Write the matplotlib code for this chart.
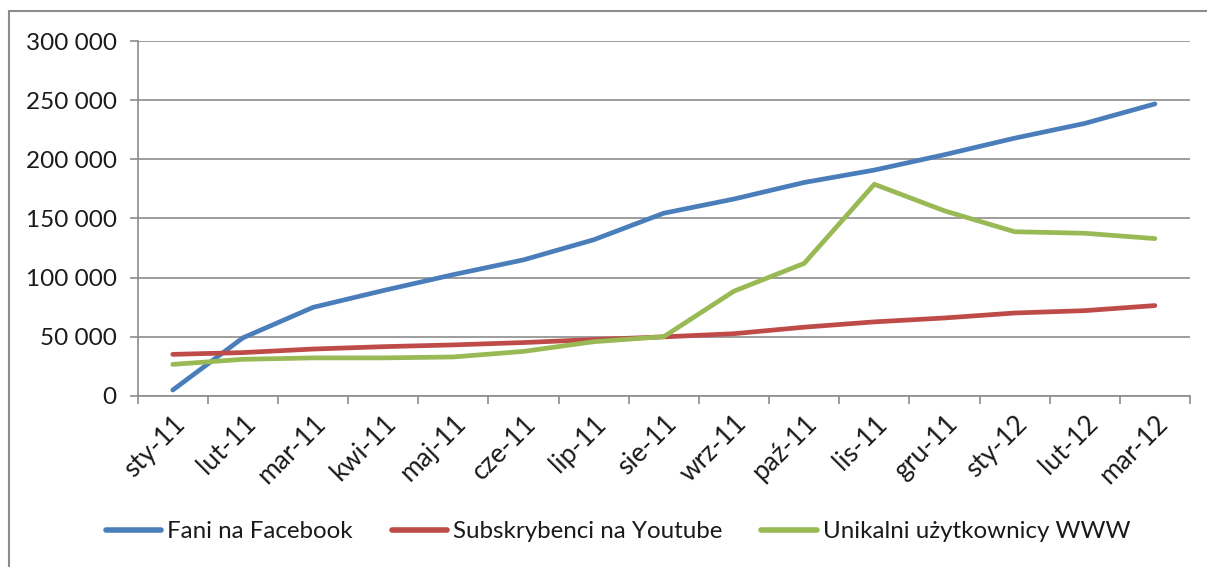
import matplotlib
matplotlib.use("Agg")
import matplotlib.pyplot as plt
from matplotlib.patches import Rectangle
from matplotlib.ticker import FuncFormatter, MultipleLocator

categories = ["sty-11", "lut-11", "mar-11", "kwi-11", "maj-11", "cze-11", "lip-11",
              "sie-11", "wrz-11", "paź-11", "lis-11", "gru-11", "sty-12", "lut-12", "mar-12"]
facebook = [4800, 49000, 74800, 89000, 102500, 115000, 132000, 154500, 166500,
            180500, 191000, 204000, 218000, 230500, 247000]
youtube = [35000, 36500, 39500, 41500, 43000, 45000, 47500, 49800, 52500,
           58000, 62500, 65800, 70000, 72000, 76300]
www = [26500, 30800, 32000, 32000, 32800, 37500, 45700, 50000, 88500,
       112000, 179000, 156500, 138800, 137500, 133000]
series_names = ["Fani na Facebook", "Subskrybenci na Youtube", "Unikalni użytkownicy WWW"]
colors = ["#4A7EBB", "#BE4B48", "#98B954"]

plt.rcParams['font.family'] = ['Lato', 'DejaVu Sans']

W, H = 1207, 567
fig = plt.figure(figsize=(W / 100, H / 100), dpi=100)
ax = fig.add_axes([137.7 / W, 1 - 395.7 / H, (1190 - 137.7) / W, (395.7 - 41.3) / H])

x = list(range(len(categories)))
for vals, name, c in zip([facebook, youtube, www], series_names, colors):
    ax.plot(x, vals, color=c, lw=3.4, label=name, solid_capstyle='round', solid_joinstyle='round')

ax.set_xlim(-0.5, len(categories) - 0.5)
ax.set_ylim(0, 300000)
ax.yaxis.set_major_locator(MultipleLocator(50000))
ax.yaxis.set_major_formatter(FuncFormatter(lambda v, p: f"{int(v):,}".replace(",", " ")))
grid_c = "#8c8c8c"
ax.grid(axis='y', color=grid_c, lw=1.2)
ax.set_axisbelow(True)
for s in ['top', 'right']:
    ax.spines[s].set_visible(False)
for s in ['left', 'bottom']:
    ax.spines[s].set_color(grid_c)
    ax.spines[s].set_linewidth(1.2)

ax.set_xticks([i - 0.5 for i in range(len(categories) + 1)], minor=False)
ax.set_xticklabels([])
ax.set_xticks(x, minor=True)
ax.set_xticklabels(categories, minor=True, rotation=45, ha='right', rotation_mode='anchor',
                   fontsize=19, color='#1a1a1a')
ax.tick_params(axis='x', which='major', length=6, color=grid_c, width=1.2)
ax.tick_params(axis='x', which='minor', length=0, pad=11)
ax.tick_params(axis='y', length=6, color=grid_c, width=1.2, labelsize=17.5, pad=9,
               labelcolor='#1a1a1a')

leg = fig.legend(loc='center', bbox_to_anchor=(0.512, 1 - 532 / H), ncol=3, frameon=False,
                 fontsize=17.4, handlelength=2.3, handletextpad=0.25, columnspacing=1.6,
                 labelcolor='#1a1a1a')
for line in leg.get_lines():
    line.set_linewidth(4)

fig.patches.append(Rectangle((9 / W, -0.1), 1.2, (1 - 11 / H) + 0.1, transform=fig.transFigure,
                             fill=False, edgecolor='#8c8c8c', lw=1.5))

fig.savefig("out.png", dpi=100)
